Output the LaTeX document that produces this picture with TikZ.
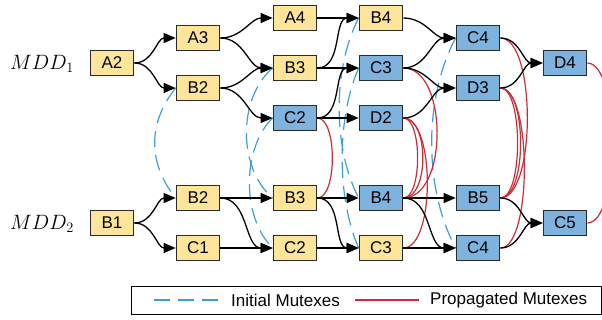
\documentclass[tikz,border=0pt]{standalone}
\usepackage{fontspec}
\setmainfont{Liberation Sans}
\usetikzlibrary{arrows.meta}
\definecolor{mddyellow}{HTML}{FFE599}
\definecolor{mddblue}{HTML}{7EB2DF}
\definecolor{mutexblue}{HTML}{3A9FDC}
\definecolor{mutexred}{HTML}{D22A35}
\definecolor{boxline}{HTML}{2A2A2A}

\begin{document}
\begin{tikzpicture}[x=1pt,y=-1pt,
  mddnode/.style={draw=boxline, line width=1.2pt, minimum width=43.5pt,
    minimum height=25.3pt, inner sep=0pt, font=\fontsize{17}{20}\selectfont},
  ynode/.style={mddnode, fill=mddyellow},
  bnode/.style={mddnode, fill=mddblue},
  arc/.style={draw=black, line width=1.3pt, -{Triangle[length=12pt,width=10pt]}},
  curve/.style={out=0, in=180},
  initmx/.style={draw=mutexblue, line width=1.2pt, dash pattern=on 16pt off 8pt},
  propmx/.style={draw=mutexred, line width=1.2pt},
  lbl/.style={inner sep=0pt, font=\fontsize{17}{20}\selectfont}
]
\useasboundingbox (0,0) rectangle (602,320);
\clip (0,0) rectangle (602,320);

% MDD labels
\node[inner sep=0pt] (mdd1) at (42,64) {\fontsize{21}{25}\selectfont $MDD_1$};
\node[inner sep=0pt] (mdd2) at (42,224) {\fontsize{21}{25}\selectfont $MDD_2$};

% MDD of agent 1
\node[ynode] (A2)  at (112,63)  {A2};
\node[ynode] (A3)  at (198,38)  {A3};
\node[ynode] (B2t) at (198,88)  {B2};
\node[ynode] (A4)  at (295,18)  {A4};
\node[ynode] (B3t) at (295,68)  {B3};
\node[bnode] (C2t) at (295,118) {C2};
\node[ynode] (B4t) at (381,18)  {B4};
\node[bnode] (C3t) at (381,68)  {C3};
\node[bnode] (D2t) at (381,118) {D2};
\node[bnode] (C4t) at (478,38)  {C4};
\node[bnode] (D3t) at (478,88)  {D3};
\node[bnode] (D4t) at (565,63)  {D4};

% MDD of agent 2
\node[ynode] (B1)  at (112,223) {B1};
\node[ynode] (B2b) at (198,198) {B2};
\node[ynode] (C1)  at (198,248) {C1};
\node[ynode] (B3b) at (295,198) {B3};
\node[ynode] (C2b) at (295,248) {C2};
\node[bnode] (B4b) at (381,198) {B4};
\node[ynode] (C3b) at (381,248) {C3};
\node[bnode] (B5)  at (478,198) {B5};
\node[bnode] (C4b) at (478,248) {C4};
\node[bnode] (C5)  at (565,223) {C5};

% initial mutexes
\draw[initmx] (B2t.west) .. controls +(-28,35) and +(-28,-35) .. (B2b.west);
\draw[initmx] (B3t.west) .. controls +(-35,30) and +(-35,-30) .. (B3b.west);
\draw[initmx] (C2t.west) .. controls +(-31,30) and +(-31,-30) .. (C2b.west);
\draw[initmx] (B4t.west) .. controls +(-26,50) and +(-26,-50) .. (B4b.west);
\draw[initmx] (C3t.west) .. controls +(-22,50) and +(-22,-50) .. (C3b.west);
\draw[initmx] (C4t.west) .. controls +(-32,60) and +(-32,-60) .. (C4b.west);

% propagated mutexes
\draw[propmx] (C2t.east) .. controls +(20,0) and +(20,0) .. (B3b.east);
\draw[propmx] (C3t.east) .. controls +(45,0) and +(45,0) .. (B4b.east);
\draw[propmx] (D2t.east) .. controls +(19,0) and +(19,0) .. (B4b.east);
\draw[propmx] (D2t.east) .. controls +(26,0) and +(26,0) .. (B4b.east);
\draw[propmx] (D2t.east) .. controls +(32,0) and +(32,0) .. (C3b.east);
\draw[propmx] (C4t.east) .. controls +(36,0) and +(36,0) .. (B5.east);
\draw[propmx] (D3t.east) .. controls +(23,0) and +(23,0) .. (B5.east);
\draw[propmx] (D3t.east) .. controls +(27,0) and +(27,0) .. (B5.east);
\draw[propmx] (D3t.east) .. controls +(32,0) and +(32,0) .. (C4b.east);
\draw[propmx] (D4t.east) .. controls +(33,0) and +(33,0) .. (C5.east);

% edges of MDD 1
\draw[arc] (A2.east)  to[curve] (A3.west);
\draw[arc] (A2.east)  to[curve] (B2t.west);
\draw[arc] (A3.east)  to[curve] (A4.west);
\draw[arc] (A3.east)  to[curve] (B3t.west);
\draw[arc] (B2t.east) to[curve] (B3t.west);
\draw[arc] (B2t.east) to[curve] (C2t.west);
\draw[arc] (A4.east)  -- (B4t.west);
\draw[arc] (B3t.east) to[curve] (B4t.west);
\draw[arc] (B3t.east) -- (C3t.west);
\draw[arc] (C2t.east) to[curve] (C3t.west);
\draw[arc] (C2t.east) -- (D2t.west);
\draw[arc] (B4t.east) to[curve] (C4t.west);
\draw[arc] (C3t.east) to[curve] (C4t.west);
\draw[arc] (C3t.east) to[curve] (D3t.west);
\draw[arc] (D2t.east) to[curve] (D3t.west);
\draw[arc] (C4t.east) to[curve] (D4t.west);
\draw[arc] (D3t.east) to[curve] (D4t.west);

% edges of MDD 2
\draw[arc] (B1.east)  to[curve] (B2b.west);
\draw[arc] (B1.east)  to[curve] (C1.west);
\draw[arc] (B2b.east) -- (B3b.west);
\draw[arc] (B2b.east) to[curve] (C2b.west);
\draw[arc] (C1.east)  -- (C2b.west);
\draw[arc] (B3b.east) -- (B4b.west);
\draw[arc] (B3b.east) to[curve] (C3b.west);
\draw[arc] (C2b.east) -- (C3b.west);
\draw[arc] (B4b.east) -- (B5.west);
\draw[arc] (B4b.east) to[curve] (C4b.west);
\draw[arc] (C3b.east) -- (C4b.west);
\draw[arc] (B5.east)  to[curve] (C5.west);
\draw[arc] (C4b.east) to[curve] (C5.west);

% legend
\node[draw=black, line width=1.3pt, minimum width=470.5pt, minimum height=28pt,
  inner sep=0pt, anchor=north west] (legend) at (130.5,286) {};
\coordinate (ia) at (154,300);
\coordinate (ib) at (218,300);
\draw[initmx] (ia) -- (ib);
\node[lbl, anchor=west] (itxt) at (231,300.5) {Initial Mutexes};
\coordinate (pa) at (355,300);
\coordinate (pb) at (419,300);
\draw[propmx] (pa) -- (pb);
\node[lbl, anchor=west] (ptxt) at (430,300.5) {Propagated Mutexes};
\end{tikzpicture}
\end{document}
